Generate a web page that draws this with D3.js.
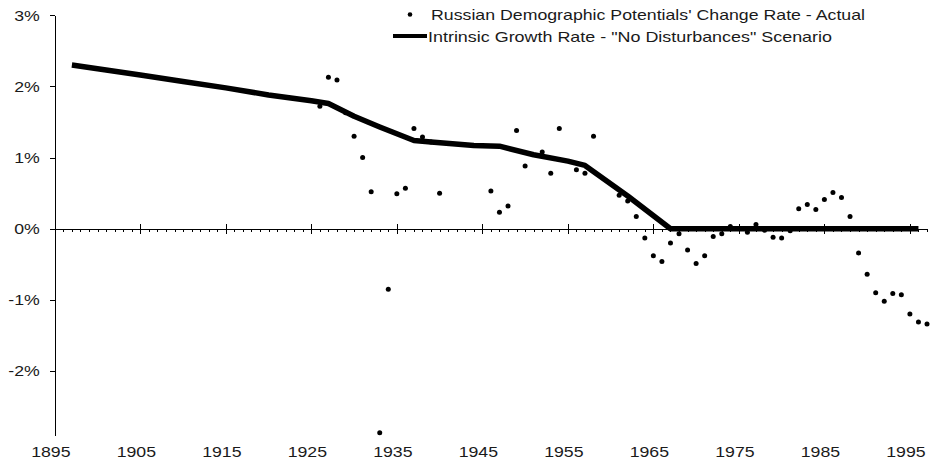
<!DOCTYPE html>
<html>
<head>
<meta charset="utf-8">
<script src="https://cdn.jsdelivr.net/npm/d3@7"></script>
<style>
  body { margin: 0; background: #fff; }
  svg { display: block; font-family: "Liberation Sans", Arial, sans-serif; }
  .axis path, .axis line { stroke: #000; shape-rendering: crispEdges; }
</style>
</head>
<body>
<div class="display"></div>
<script>
// actual change rate, in %
const actualYears = [1926, 1927, 1928, 1929, 1930, 1931, 1932, 1933, 1934, 1935, 1936, 1937, 1938, 1939, 1940,
  1946, 1947, 1948, 1949, 1950, 1952, 1953, 1954, 1956, 1957, 1958,
  1961, 1962, 1963, 1964, 1965, 1966, 1967, 1968, 1969, 1970, 1971, 1972, 1973, 1974,
  1976, 1977, 1978, 1979, 1980, 1981, 1982, 1983, 1984, 1985, 1986, 1987, 1988, 1989,
  1990, 1991, 1992, 1993, 1994, 1995, 1996, 1997];
const actualRates = [1.72, 2.13, 2.09, 1.63, 1.30, 1.00, 0.52, -2.87, -0.85, 0.49, 0.57, 1.41, 1.29, 1.22, 0.50,
  0.53, 0.23, 0.32, 1.38, 0.88, 1.08, 0.78, 1.41, 0.83, 0.78, 1.30,
  0.47, 0.39, 0.17, -0.13, -0.38, -0.46, -0.20, -0.07, -0.30, -0.49, -0.38, -0.11, -0.07, 0.03,
  -0.05, 0.06, -0.02, -0.12, -0.13, -0.03, 0.28, 0.34, 0.27, 0.41, 0.51, 0.44, 0.17, -0.34,
  -0.64, -0.90, -1.02, -0.91, -0.93, -1.20, -1.31, -1.34];

// intrinsic growth rate ("no disturbances"), in %
const trendYears = [1897, 1900, 1905, 1910, 1915, 1920, 1925, 1927, 1930, 1933, 1937, 1939, 1944, 1947,
  1951, 1955, 1957, 1962, 1967, 1996];
const trendRates = [2.30, 2.25, 2.16, 2.07, 1.98, 1.88, 1.80, 1.76, 1.58, 1.43, 1.24, 1.22, 1.17, 1.16,
  1.04, 0.95, 0.89, 0.46, 0.0, 0.0];

const yTicks = [3, 2, 1, 0, -1, -2];
const xLabels = [1895, 1905, 1915, 1925, 1935, 1945, 1955, 1965, 1975, 1985, 1995];

const legendLabels = ["Russian Demographic Potentials' Change Rate - Actual",
  'Intrinsic Growth Rate - "No Disturbances" Scenario'];

const config = {
  width: 930,
  height: 463,
  left: 54.8,
  right: 927,
  top: 15.3,
  bottom: 435,
  stretch: 1.18,
  fontSize: 15,
  textColor: '#1a1a1a'
};

const svg = d3.select('.display')
  .append('svg')
  .attr('width', config.width)
  .attr('height', config.height);

svg.append('rect')
  .attr('width', config.width)
  .attr('height', config.height)
  .attr('fill', '#fff');

const x = d3.scaleLinear()
  .domain([1895, 1997])
  .range([config.left, config.right]);

const y = d3.scaleLinear()
  .domain([-2.9, 3])
  .range([config.bottom, config.top]);

// y axis
const yAxis = svg.append('g')
  .attr('class', 'axis')
  .attr('transform', `translate(${config.left},0)`)
  .call(d3.axisLeft(y).tickValues(yTicks).tickSize(5).tickSizeOuter(0).tickFormat(d => d + '%'));

yAxis.selectAll('text')
  .attr('x', 0)
  .attr('fill', config.textColor)
  .style('font-size', config.fontSize + 'px')
  .attr('transform', `translate(-15,0) scale(${config.stretch},1)`);

// x axis through zero, minor tick every year
const allYears = d3.range(1895, 1998);
const xAxis = svg.append('g')
  .attr('class', 'axis')
  .attr('transform', `translate(0,${y(0)})`)
  .call(d3.axisBottom(x).tickValues(allYears).tickSize(3).tickSizeOuter(0).tickFormat(''));

xAxis.selectAll('.tick line')
  .filter(d => (d - 1895) % 10 === 0)
  .attr('y1', -5)
  .attr('y2', 5);

// year labels at the bottom
svg.append('g')
  .selectAll('text')
  .data(xLabels)
  .enter()
  .append('text')
  .attr('text-anchor', 'middle')
  .attr('fill', config.textColor)
  .style('font-size', config.fontSize + 'px')
  .attr('transform', d => `translate(${x(d) - 4},457) scale(${config.stretch},1)`)
  .text(d => d);

// trend line
const line = d3.line()
  .x(d => x(d[0]))
  .y(d => y(d[1]));

svg.append('path')
  .datum(trendYears.map((yr, i) => [yr, trendRates[i]]))
  .attr('fill', 'none')
  .attr('stroke', '#000')
  .attr('stroke-width', 5.5)
  .attr('stroke-linejoin', 'round')
  .attr('d', line);

// actual points
svg.append('g')
  .selectAll('circle')
  .data(actualYears.map((yr, i) => [yr, actualRates[i]]))
  .enter()
  .append('circle')
  .attr('cx', d => x(d[0]))
  .attr('cy', d => y(d[1]))
  .attr('r', 2.5)
  .attr('fill', '#000');

// legend
const legend = svg.append('g');

legend.append('circle')
  .attr('cx', 410)
  .attr('cy', 14.5)
  .attr('r', 2.3)
  .attr('fill', '#000');

legend.append('line')
  .attr('x1', 393)
  .attr('x2', 427)
  .attr('y1', 36)
  .attr('y2', 36)
  .attr('stroke', '#000')
  .attr('stroke-width', 4);

legend.append('text')
  .attr('x', 431)
  .attr('y', 19.5)
  .attr('fill', config.textColor)
  .style('font-size', config.fontSize + 'px')
  .attr('textLength', 434)
  .attr('lengthAdjust', 'spacingAndGlyphs')
  .text(legendLabels[0]);

legend.append('text')
  .attr('x', 428)
  .attr('y', 41.5)
  .attr('fill', config.textColor)
  .style('font-size', config.fontSize + 'px')
  .attr('textLength', 404)
  .attr('lengthAdjust', 'spacingAndGlyphs')
  .text(legendLabels[1]);
</script>
</body>
</html>
